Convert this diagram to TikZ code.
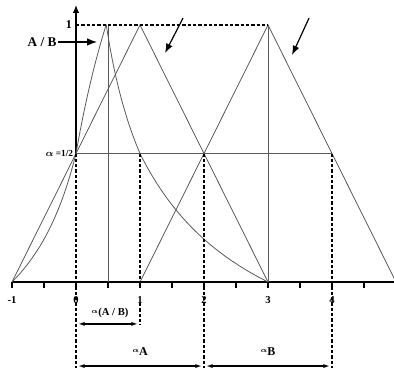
\documentclass[tikz,border=0pt]{standalone}
\usepackage{amsmath}
\usepackage{fontspec}
\setmainfont{Liberation Serif}
\usetikzlibrary{arrows.meta,calc}

\newcommand{\cutof}[1]{\raisebox{2.2pt}{\tiny$\boldsymbol\alpha$}#1}

\begin{document}
\begin{tikzpicture}[x=1.6933cm,y=6.7998cm,>=Latex,
    every node/.style={font=\bfseries\footnotesize,inner sep=1pt},
    fz/.style={draw=black!65,line width=0.6pt},
    cut/.style={dashed,dash pattern=on 2.5pt off 1.5pt,line width=1pt},
    dim/.style={<->,line width=1pt,>={Latex[length=5pt,width=3pt]}}]
    \useasboundingbox (-1.1875,-0.3502) rectangle (4.96875,1.0973);
    % axes
    \coordinate (o) at (0,0);
    \coordinate (half) at (0,0.5);
    \coordinate (top) at (0,1.078);
    \draw[line width=1.1pt] (-1,0) -- (5,0);
    \foreach \x in {-1,-0.5,...,4.5} \draw[line width=0.8pt] (\x,0) -- (\x,-0.023);
    \foreach \x in {-1,0,...,4} \node[fill=white] (t\x) at (\x,-0.07) {\x};
    \draw[line width=1.1pt,->,>={Latex[length=6pt,width=5pt]}] (half) -- (top);
    \node[left,font=\bfseries\small] (one) at (-0.04,1) {1};
    \node[left,font=\bfseries\scriptsize] (alpha) at (-0.02,0.5) {$\boldsymbol\alpha$ =1/2};
    % fuzzy numbers A and B
    \draw[fz] (-1,0) -- (1,1) -- (3,0);
    \draw[fz] (1,0) -- (3,1) -- (5,0);
    \draw[fz] (0.5,0) -- (0.5,1);
    \draw[fz] (3,0) -- (3,1);
    \draw[fz] (half) -- (4,0.5);
    % quotient A / B
    \draw[fz] plot[domain=0:0.5,samples=30,variable=\a] ({(2*\a-1)/(1+2*\a)},\a)
      -- plot[domain=0.5:1,samples=30,variable=\a] ({1.41*(2*\a-1)/(5-2*\a)},\a)
      -- plot[domain=1:0,samples=50,variable=\a] ({(3-2*\a)/(1+2*\a)+0.14*max(0,2*\a-1)},\a);
    % alpha cuts
    \draw[cut] (0,1) -- (3,1);
    \draw[cut] (half) -- (0,-0.335);
    \draw[cut] (1,0.5) -- (1,0);
    \draw[cut] (1,-0.082) -- (1,-0.165);
    \draw[cut] (2,0.5) -- (2,-0.335);
    \draw[cut] (4,0.5) -- (4,-0.335);
    % pointers
    \node (ab) at (-0.53,0.934) {\normalsize A / B};
    \coordinate (abtip) at (0.33,0.934);
    \draw[->,line width=1pt] (ab) -- (abtip);
    \coordinate (pa) at (1.672,1.027);
    \coordinate (pa2) at (1.391,0.891);
    \draw[->,line width=0.9pt] (pa) -- (pa2);
    \coordinate (pb) at (3.641,1.027);
    \coordinate (pb2) at (3.375,0.883);
    \draw[->,line width=0.9pt] (pb) -- (pb2);
    % widths of the cuts
    \node (cq) at (0.53,-0.122) {\cutof{(A / B)}};
    \draw[dim] (0.03,-0.163) -- (0.97,-0.163);
    \node[font=\bfseries\small] (ca) at (1,-0.272) {\cutof{A}};
    \draw[dim] (0.03,-0.327) -- (1.97,-0.327);
    \node[font=\bfseries\small] (cb) at (3,-0.272) {\cutof{B}};
    \draw[dim] (2.03,-0.327) -- (3.97,-0.327);
\end{tikzpicture}
\end{document}
